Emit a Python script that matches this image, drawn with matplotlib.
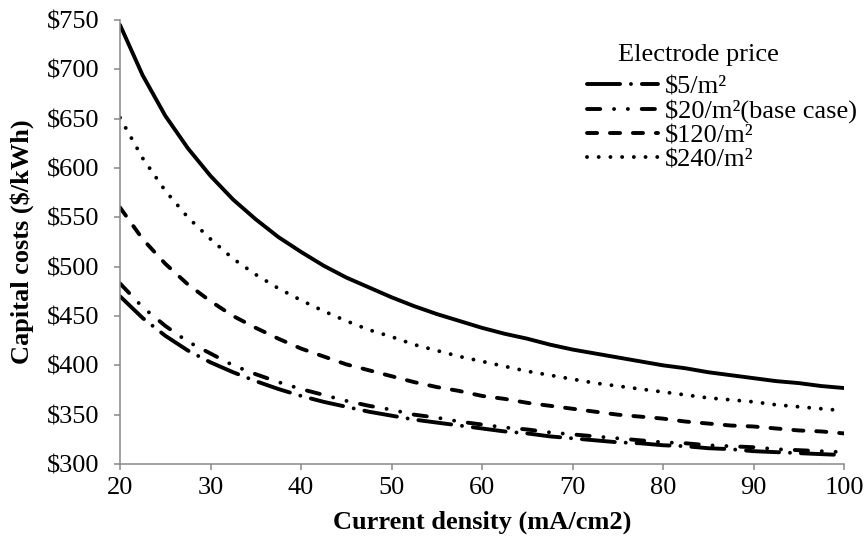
import matplotlib
matplotlib.use("Agg")
import matplotlib.pyplot as plt
from matplotlib.ticker import FuncFormatter, MultipleLocator

# current density (mA/cm2)
density = [20, 22.5, 25, 27.5, 30, 32.5, 35, 37.5, 40, 42.5, 45, 47.5, 50, 52.5, 55, 57.5,
           60, 62.5, 65, 67.5, 70, 72.5, 75, 77.5, 80, 82.5, 85, 87.5, 90, 92.5, 95, 97.5, 100]

# capital costs ($/kWh)
top_solid = [745, 694, 653, 620, 592, 568, 548, 530, 515, 501, 489, 479, 469, 460, 452, 445,
             438, 432, 427, 421, 416, 412, 408, 404, 400, 397, 393, 390, 387, 384, 382, 379, 377]
price_240 = [651, 610, 577, 550, 528, 508, 492, 478, 466, 455, 445, 436, 429, 421, 415, 409,
             404, 399, 394, 390, 386, 382, 379, 376, 373, 370, 367, 365, 363, 360, 358, 356, 354]
price_120 = [560, 528, 503, 482, 465, 450, 438, 427, 417, 409, 401, 395, 389, 383, 378, 374,
             369, 366, 362, 359, 356, 353, 350, 348, 346, 343, 341, 339, 338, 336, 334, 333, 331]
price_20  = [483, 459, 440, 424, 412, 400, 391, 383, 376, 370, 364, 359, 355, 350, 347, 343,
             340, 337, 335, 332, 330, 328, 326, 324, 322, 321, 319, 318, 317, 315, 314, 313, 312]
price_5   = [470, 448, 430, 415, 403, 393, 384, 376, 369, 363, 358, 353, 349, 345, 342, 339,
             336, 333, 331, 328, 326, 324, 322, 321, 319, 318, 316, 315, 313, 312, 311, 310, 309]

labels = ["$5/m²", "$20/m²(base case)", "$120/m²", "$240/m²"]

plt.rcParams.update({
    "font.family": ["Liberation Serif", "DejaVu Serif"],
    "font.size": 19,
    "mathtext.default": "regular",
})

AXIS_GREY = "#898989"
LW = 2.8

fig = plt.figure(figsize=(8.66, 5.37), dpi=100)
ax = fig.add_axes([120 / 866, 1 - 464 / 537, 724 / 866, 444 / 537])

ax.plot(density, top_solid, color="black", lw=LW, solid_capstyle="round",
        solid_joinstyle="round", label="_nolegend_")
ax.plot(density, price_5, color="black", lw=LW, dash_capstyle="round",
        linestyle=(0, (8.5, 2.8, 0.01, 2.8)), label=labels[0])
ax.plot(density, price_20, color="black", lw=LW, dash_capstyle="round",
        linestyle=(0, (3.4, 3.55, 0.01, 3.55, 0.01, 3.55)), label=labels[1])
ax.plot(density, price_120, color="black", lw=LW, dash_capstyle="round",
        linestyle=(0, (2.6, 3.3)), label=labels[2])
ax.plot(density, price_240, color="black", lw=LW, dash_capstyle="round",
        linestyle=(0, (0.01, 3.0)), label=labels[3])

ax.set_xlim(20, 100)
ax.set_ylim(300, 750)
ax.xaxis.set_major_locator(MultipleLocator(10))
ax.yaxis.set_major_locator(MultipleLocator(50))
ax.yaxis.set_major_formatter(FuncFormatter(lambda v, _: f"${v:.0f}"))

for side in ("top", "right"):
    ax.spines[side].set_visible(False)
for side in ("left", "bottom"):
    ax.spines[side].set_color(AXIS_GREY)
    ax.spines[side].set_linewidth(1.1)
ax.tick_params(axis="both", direction="out", length=4.5, width=1.1, color=AXIS_GREY)
ax.tick_params(axis="y", pad=10)
ax.tick_params(axis="x", pad=5)

ax.set_xlabel("Current density (mA/cm2)", fontweight="bold", va="center")
ax.xaxis.set_label_coords(0.5, -0.1306)
ax.set_ylabel("Capital costs ($/kWh)", fontweight="bold", va="center")
ax.yaxis.set_label_coords(-0.1354, 0.5)

leg = ax.legend(loc="upper left", bbox_to_anchor=((587 - 120) / 724, (464 - 75) / 444),
                frameon=False, handlelength=2.7, handletextpad=0.27,
                labelspacing=0.03, borderpad=0, borderaxespad=0)
fig.text(618 / 866, 1 - 55 / 537, "Electrode price", ha="left", va="center")

fig.savefig("out.png", dpi=100, facecolor="white")
